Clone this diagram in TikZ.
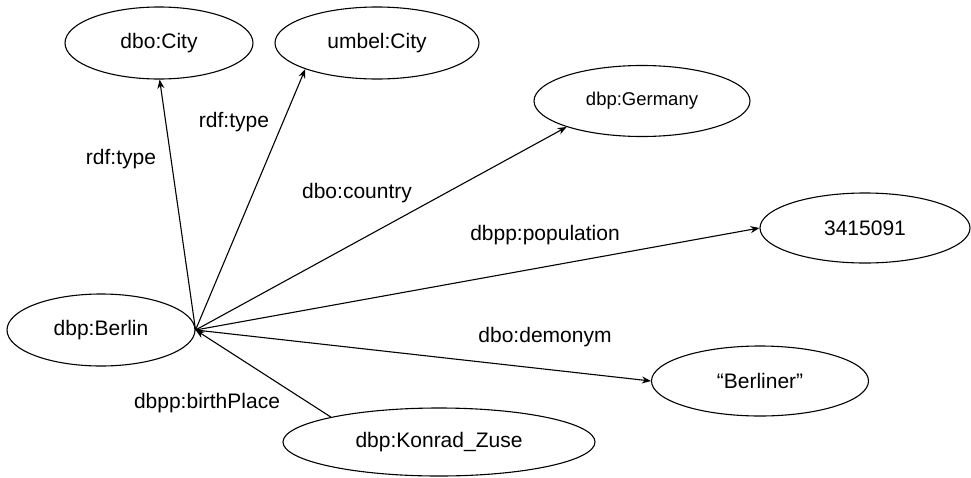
\documentclass[tikz,border=0pt]{standalone}
\usepackage{fontspec}
\setmainfont{Liberation Sans}
\usetikzlibrary{arrows.meta,shapes.geometric}
\tikzset{
  entity/.style={
    draw,
    ellipse,
    line width=1.1pt,
    inner sep=0pt,
    minimum width=188pt,
    minimum height=72pt,
    font=\fontsize{21}{25}\selectfont
  },
  edgelabel/.style={
    inner sep=0pt,
    font=\fontsize{21}{25}\selectfont
  },
  arrow/.style={-{Stealth[length=9pt,width=7pt]},line width=1.1pt}
}

\begin{document}
\begin{tikzpicture}[x=1pt,y=-1pt]
    \useasboundingbox (0,0) rectangle (971,477);
    % resources
    \node[entity] (berlin) at (101,330) {dbp:Berlin};
    \node[entity] (dbocity) at (159,43) {dbo:City};
    \node[entity,minimum width=204pt] (umbelcity) at (377,43) {umbel:City};
    \node[entity,minimum width=216pt,minimum height=71pt,
          font=\fontsize{18.5}{22}\selectfont] (germany) at (642,101) {dbp:Germany};
    \node[entity,minimum width=210pt,minimum height=70pt] (population) at (865,228) {3415091};
    \node[entity,minimum width=217pt,minimum height=70pt] (demonym) at (760,381) {“Berliner”};
    \node[entity,minimum width=312pt,minimum height=68pt] (zuse) at (439,442) {dbp:Konrad\_Zuse};
    % properties
    \draw[arrow] (berlin.east) -- (dbocity.271);
    \draw[arrow] (berlin.east) -- (umbelcity.200);
    \draw[arrow] (berlin.east) -- (germany.199);
    \draw[arrow] (berlin.east) -- (population.west);
    \draw[arrow] (berlin.east) -- (demonym.west);
    \draw[arrow] (zuse.167) -- (berlin.east);
    \node[edgelabel] (typeA) at (121,159) {rdf:type};
    \node[edgelabel] (typeB) at (234,122) {rdf:type};
    \node[edgelabel] (country) at (357,193) {dbo:country};
    \node[edgelabel] (pop) at (545,235) {dbpp:population};
    \node[edgelabel] (demo) at (545,337) {dbo:demonym};
    \node[edgelabel] (birth) at (207,403) {dbpp:birthPlace};
\end{tikzpicture}
\end{document}
